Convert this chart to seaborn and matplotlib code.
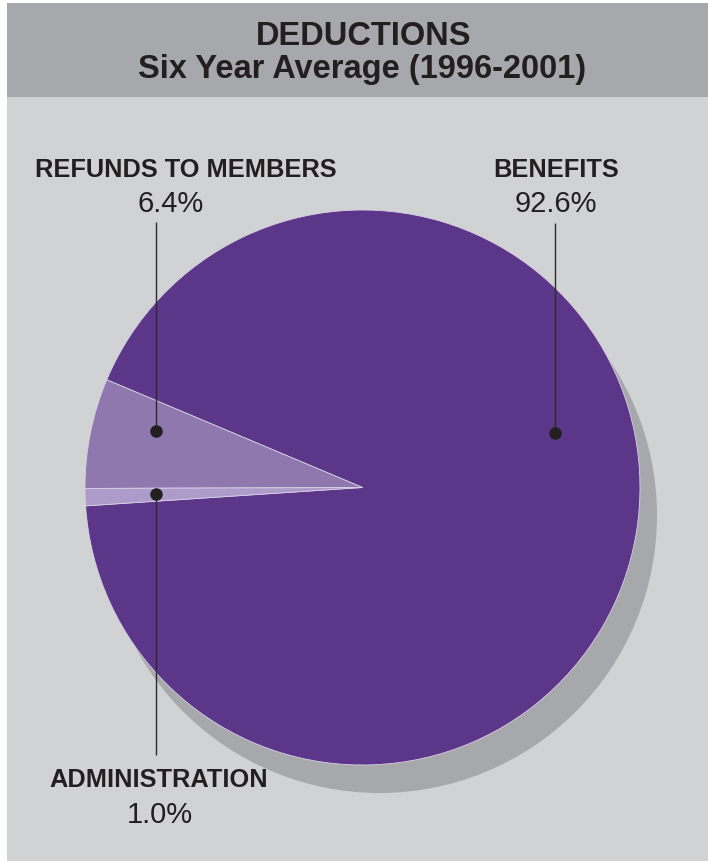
import matplotlib
matplotlib.use("Agg")
import matplotlib.pyplot as plt
from matplotlib.patches import Rectangle, Circle
import seaborn as sns

# Deduction shares, six-year average 1996-2001
categories = ["BENEFITS", "REFUNDS TO MEMBERS", "ADMINISTRATION"]
shares = [92.6, 6.4, 1.0]
pct_labels = ["92.6%", "6.4%", "1.0%"]
slice_colors = ["#5c3688", "#8e78ae", "#ad9bca"]

sns.set_theme(style="white")
plt.rcParams["font.family"] = ["Liberation Sans", "DejaVu Sans"]

W, H = 708, 861
fig = plt.figure(figsize=(W / 100, H / 100), dpi=100, facecolor="white")
ax = fig.add_axes([0, 0, 1, 1])
ax.set_xlim(0, W)
ax.set_ylim(0, H)
ax.set_aspect("equal")
ax.axis("off")

def py(y):  # convert a top-down pixel row to the axes' y
    return H - y

text_color = "#231f20"

# panel and header band
ax.add_patch(Rectangle((7, 0), W - 7, py(3), facecolor="#d1d2d4", edgecolor="none", zorder=0))
ax.add_patch(Rectangle((7, py(96.7)), W - 7, 96.7 - 3, facecolor="#a7a8ab", edgecolor="none", zorder=0.5))

# title
ax.text(364, py(45), "DEDUCTIONS", ha="center", va="baseline", fontsize=23.5,
        fontweight="bold", color=text_color)
ax.text(362.5, py(78.3), "Six Year Average (1996-2001)", ha="center", va="baseline",
        fontsize=23.5, fontweight="bold", color=text_color)

# pie with drop shadow
cx, cy, r = 362.5, py(487.5), 277.5
ax.add_patch(Circle((cx + 17, cy - 28), r, facecolor="#a7a8ab", edgecolor="none", zorder=1))
ax.pie(shares, colors=slice_colors, startangle=183.8, counterclock=True,
       center=(cx, cy), radius=r, frame=True,
       wedgeprops=dict(edgecolor="#d8d0e6", linewidth=0.6, zorder=2))
ax.set_xlim(0, W)
ax.set_ylim(0, H)
ax.axis("off")

# callouts: label centre, name baseline, pct baseline, dot, end of leader line
callouts = {
    "BENEFITS": dict(lx=556, name_y=176.7, pct_x=555.5, pct_y=211.7, dot=(555, 433), end=223),
    "REFUNDS TO MEMBERS": dict(lx=186, name_y=177.3, pct_x=170.5, pct_y=212.3, dot=(156, 431), end=222),
    "ADMINISTRATION": dict(lx=159, name_y=787.3, pct_x=160, pct_y=822.7, dot=(156, 494), end=755),
}
for name, pct in zip(categories, pct_labels):
    c = callouts[name]
    ax.text(c["lx"], py(c["name_y"]), name, ha="center", va="baseline", fontsize=18.3,
            fontweight="bold", color=text_color, zorder=5)
    ax.text(c["pct_x"], py(c["pct_y"]), pct, ha="center", va="baseline", fontsize=21,
            color=text_color, zorder=5)
    dx, dy = c["dot"]
    ax.plot([dx, dx], [py(dy), py(c["end"])], color="#2e2a2c", lw=1.0, zorder=4,
            solid_capstyle="butt")
    ax.plot([dx], [py(dy)], marker="o", markersize=8, color=text_color, zorder=6)

fig.savefig("out.png", dpi=100, facecolor="white")
